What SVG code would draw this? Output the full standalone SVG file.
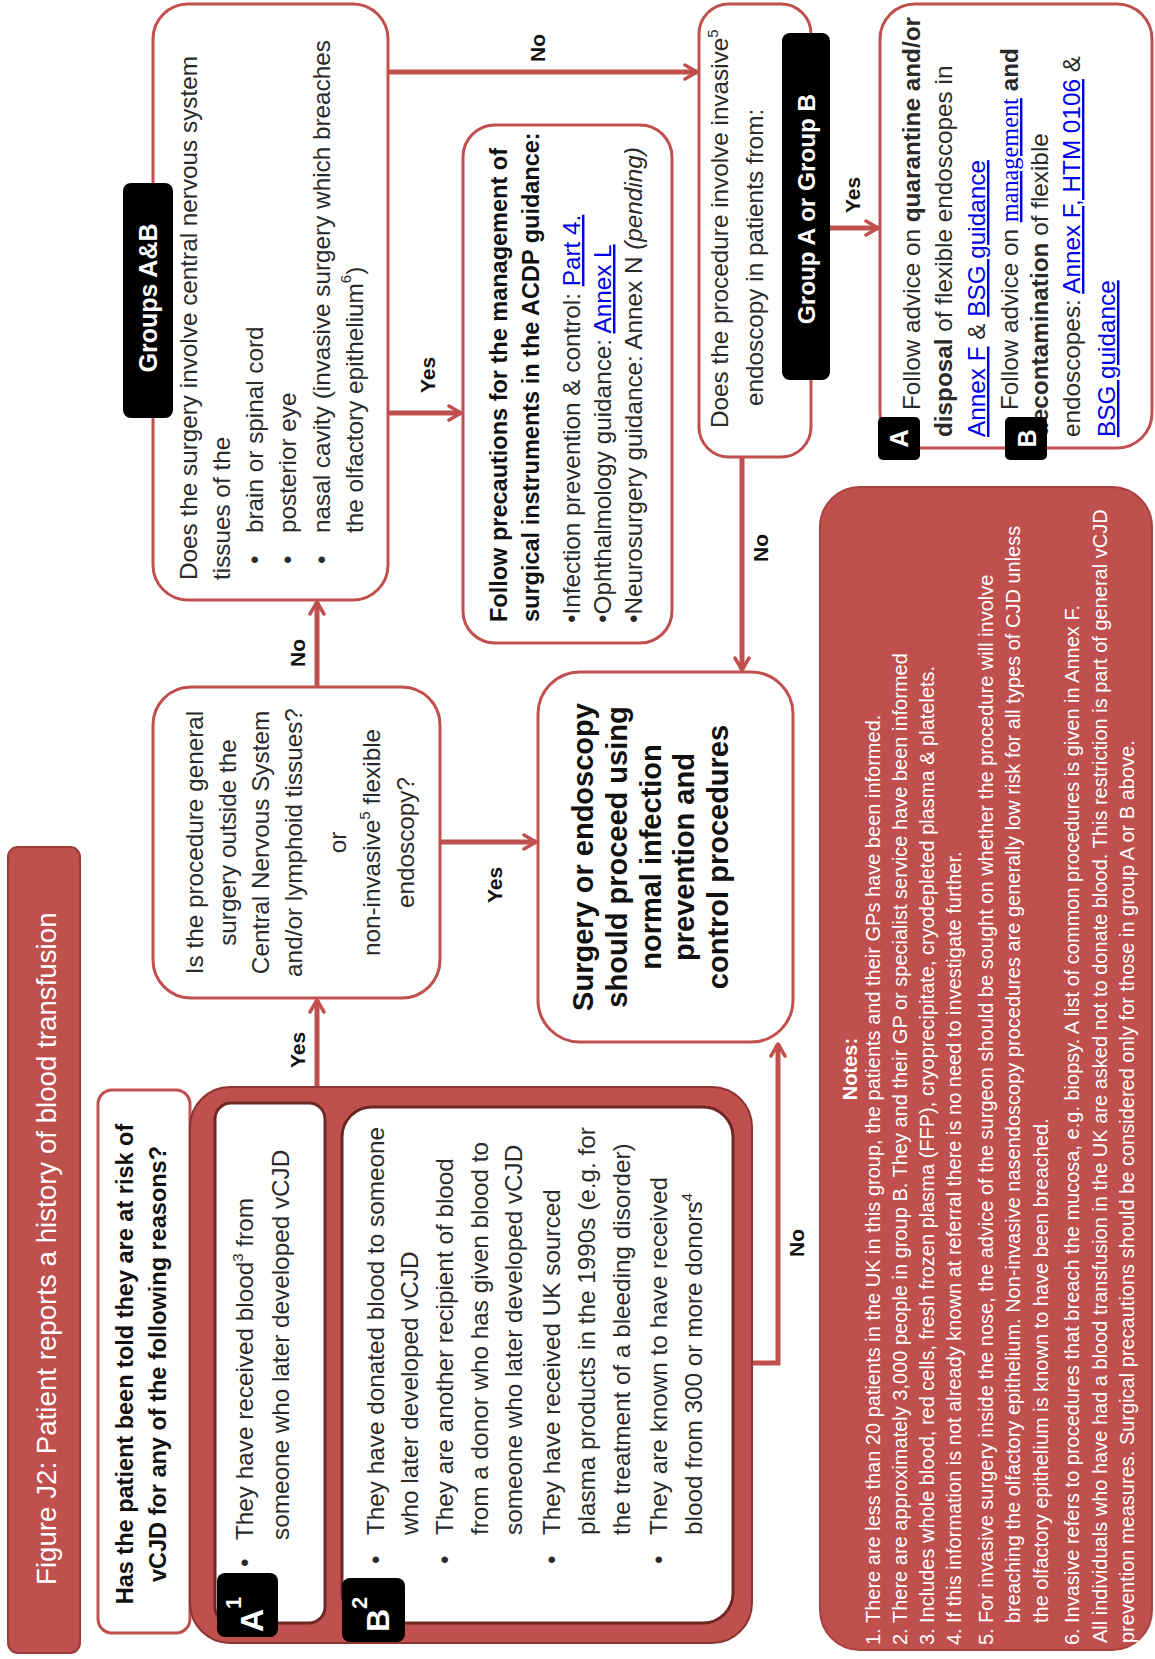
<svg xmlns="http://www.w3.org/2000/svg" width="1155" height="1659" viewBox="0 0 1155 1659">
<defs>
<marker id="arr" markerUnits="userSpaceOnUse" markerWidth="18" markerHeight="18" viewBox="0 0 18 18" refX="15" refY="9" orient="auto">
<path d="M3,2 L15,9 L3,16" fill="none" stroke="#c0504d" stroke-width="3.5" stroke-linecap="round" stroke-linejoin="round"/>
</marker>
<style>
text{font-family:"Liberation Sans",Arial,sans-serif;}
.t{font-size:24.3px;fill:#2a2a2a;}
.q{font-size:23.5px;font-weight:bold;fill:#111;}
.lb{font-size:21px;font-weight:bold;fill:#111;}
.wb{font-weight:bold;fill:#fff;}
.n{font-size:20px;fill:#fff;}
.lk{fill:#0000ee;text-decoration:underline;}
.rbox{fill:#fff;stroke:#c0504d;stroke-width:3;}
.conn{fill:none;stroke:#c0504d;stroke-width:5;marker-end:url(#arr);}
.tag{fill:#000;}
.big{font-size:29px;font-weight:bold;fill:#111;}
</style>
</defs>
<rect width="1155" height="1659" fill="#fff"/>
<g transform="translate(0,1659) rotate(-90)">

<g id="connectors">
<path class="conn" d="M572,317 L659,317"/>
<path class="conn" d="M972,317 L1057,317"/>
<path class="conn" d="M1246,388 L1246,461"/>
<path class="conn" d="M1587,388 L1587,697"/>
<path class="conn" d="M1431,830 L1431,878"/>
<path class="conn" d="M1202,742 L989,742"/>
<path class="conn" d="M817,440 L817,536"/>
<path class="conn" d="M296,752 L296,778 L615,778"/>
<text class="lb" x="609" y="305" text-anchor="middle">Yes</text>
<text class="lb" x="1006" y="305" text-anchor="middle">No</text>
<text class="lb" x="1284" y="435" text-anchor="middle">Yes</text>
<text class="lb" x="1611" y="545" text-anchor="middle">No</text>
<text class="lb" x="1464" y="860" text-anchor="middle">Yes</text>
<text class="lb" x="1111" y="768" text-anchor="middle">No</text>
<text class="lb" x="774" y="502" text-anchor="middle">Yes</text>
<text class="lb" x="416" y="804" text-anchor="middle">No</text>
</g>

<g id="title">
<rect x="6" y="8" width="806" height="72" rx="10" fill="#c0504d" stroke="#9b3c39" stroke-width="2"/>
<text x="74" y="56" font-size="27.7" fill="#fff">Figure J2: Patient reports a history of blood transfusion</text>
</g>

<g id="question">
<rect class="rbox" x="26" y="98" width="543" height="92" rx="14" stroke-width="2.5"/>
<text class="q" x="295" y="133" text-anchor="middle">Has the patient been told they are at risk of</text>
<text class="q" x="295" y="166" text-anchor="middle">vCJD for any of the following reasons?</text>
</g>

<g id="groups">
<rect x="16" y="190" width="556" height="562" rx="40" fill="#c0504d" stroke="#8a3532" stroke-width="2"/>
<rect x="36" y="215" width="520" height="110" rx="16" fill="#fff" stroke="#6e2725" stroke-width="3"/>
<rect x="36" y="342" width="516" height="391" rx="30" fill="#fff" stroke="#6e2725" stroke-width="3"/>
<rect class="tag" x="22" y="217" width="64" height="61" rx="8"/>
<text class="wb" x="27" y="263" font-size="32">A<tspan font-size="22" dy="-22">1</tspan></text>
<rect class="tag" x="17" y="342" width="64" height="63" rx="8"/>
<text class="wb" x="27" y="389" font-size="32">B<tspan font-size="22" dy="-22">2</tspan></text>
<text class="t" x="92" y="253">•</text>
<text class="t" x="119" y="253">They have received blood<tspan font-size="15" dy="-10">3</tspan><tspan dy="10"> from</tspan></text>
<text class="t" x="119" y="289">someone who later developed vCJD</text>
<text class="t" x="95" y="384">•</text>
<text class="t" x="124" y="384">They have donated blood to someone</text>
<text class="t" x="124" y="418">who later developed vCJD</text>
<text class="t" x="95" y="453">•</text>
<text class="t" x="124" y="453">They are another recipient of blood</text>
<text class="t" x="124" y="488">from a donor who has given blood to</text>
<text class="t" x="124" y="522">someone who later developed vCJD</text>
<text class="t" x="95" y="560">•</text>
<text class="t" x="124" y="560">They have received UK sourced</text>
<text class="t" x="124" y="595">plasma products in the 1990s (e.g. for</text>
<text class="t" x="124" y="630">the treatment of a bleeding disorder)</text>
<text class="t" x="95" y="667">•</text>
<text class="t" x="124" y="667">They are known to have received</text>
<text class="t" x="124" y="702">blood from 300 or more donors<tspan font-size="15" dy="-10">4</tspan></text>
</g>

<g id="q-general">
<rect class="rbox" x="661" y="153" width="311" height="287" rx="38"/>
<text class="t" x="816.5" y="203" text-anchor="middle">Is the procedure general</text>
<text class="t" x="816.5" y="236" text-anchor="middle">surgery outside the</text>
<text class="t" x="816.5" y="269" text-anchor="middle">Central Nervous System</text>
<text class="t" x="816.5" y="302" text-anchor="middle">and/or lymphoid tissues?</text>
<text class="t" x="816.5" y="346" text-anchor="middle">or</text>
<text class="t" x="816.5" y="380" text-anchor="middle">non-invasive<tspan font-size="15" dy="-10">5</tspan><tspan dy="10"> flexible</tspan></text>
<text class="t" x="816.5" y="414" text-anchor="middle">endoscopy?</text>
</g>

<g id="q-cns">
<rect class="rbox" x="1059" y="153" width="596" height="235" rx="35"/>
<rect class="tag" x="1241" y="123" width="235" height="50" rx="8"/>
<text class="wb" x="1361" y="157" font-size="25" text-anchor="middle">Groups A&amp;B</text>
<text class="t" x="1079" y="197">Does the surgery involve central nervous system</text>
<text class="t" x="1079" y="230">tissues of the</text>
<text class="t" x="1095" y="263">•</text>
<text class="t" x="1126" y="263">brain or spinal cord</text>
<text class="t" x="1095" y="296">•</text>
<text class="t" x="1126" y="296">posterior eye</text>
<text class="t" x="1095" y="330">•</text>
<text class="t" x="1126" y="330">nasal cavity (invasive surgery which breaches</text>
<text class="t" x="1126" y="363">the olfactory epithelium<tspan font-size="15" dy="-12">6</tspan><tspan dy="12">)</tspan></text>
</g>

<g id="precautions">
<rect class="rbox" x="1016" y="463" width="518" height="209" rx="32"/>
<text class="q" x="1037" y="507">Follow precautions for the management of</text>
<text class="q" x="1037" y="539">surgical instruments in the ACDP guidance:</text>
<text class="t" x="1036" y="580">•Infection prevention &amp; control: <tspan class="lk">Part 4.</tspan></text>
<text class="t" x="1036" y="611">•Ophthalmology guidance: <tspan class="lk">Annex L</tspan></text>
<text class="t" x="1036" y="642">•Neurosurgery guidance: Annex N <tspan font-style="italic">(pending)</tspan></text>
</g>

<g id="q-endoscopy">
<rect class="rbox" x="1202" y="699" width="453" height="112" rx="30"/>
<text class="t" x="1231" y="728">Does the procedure involve invasive<tspan font-size="15" dy="-10">5</tspan></text>
<text class="t" x="1253" y="763">endoscopy in patients from:</text>
<rect class="tag" x="1279" y="782" width="347" height="48" rx="8"/>
<text class="wb" x="1450" y="815" font-size="24.3" text-anchor="middle">Group A or Group B</text>
</g>

<g id="surgery">
<rect class="rbox" x="617" y="538" width="370" height="255" rx="42" stroke-width="3.5"/>
<text class="big" x="802" y="593" text-anchor="middle">Surgery or endoscopy</text>
<text class="big" x="802" y="627" text-anchor="middle">should proceed using</text>
<text class="big" x="802" y="661" text-anchor="middle">normal infection</text>
<text class="big" x="802" y="694" text-anchor="middle">prevention and</text>
<text class="big" x="802" y="728" text-anchor="middle">control procedures</text>
</g>

<g id="advice">
<rect class="rbox" x="1211" y="880" width="444" height="272" rx="35"/>
<text class="t" x="1249" y="920">Follow advice on <tspan font-weight="bold">quarantine and/or</tspan></text>
<text class="t" x="1222" y="952"><tspan font-weight="bold">disposal</tspan> of flexible endoscopes in</text>
<text class="t" x="1222" y="985"><tspan class="lk">Annex F</tspan> &amp; <tspan class="lk">BSG guidance</tspan></text>
<text class="t" x="1249" y="1018">Follow advice on <tspan class="lk" font-family="Liberation Serif">management</tspan> <tspan font-weight="bold">and</tspan></text>
<text class="t" x="1222" y="1048"><tspan font-weight="bold">decontamination</tspan> of flexible</text>
<text class="t" x="1222" y="1080">endoscopes: <tspan class="lk">Annex F, HTM 0106</tspan> &amp;</text>
<text class="t" x="1222" y="1115"><tspan class="lk">BSG guidance</tspan></text>
<rect class="tag" x="1199" y="878" width="43" height="42" rx="5"/>
<text class="wb" x="1220.5" y="908" font-size="25" text-anchor="middle">A</text>
<rect class="tag" x="1199" y="1005" width="43" height="42" rx="5"/>
<text class="wb" x="1220.5" y="1036" font-size="25" text-anchor="middle">B</text>
</g>

<g id="notes">
<rect x="9" y="820" width="1163" height="332" rx="40" fill="#c0504d" stroke="#a9433f" stroke-width="2"/>
<text class="n" x="590" y="857" font-weight="bold" text-anchor="middle">Notes:</text>
<text class="n" x="14" y="880">1.</text>
<text class="n" x="36" y="880">There are less than 20 patients in the UK in this group, the patients and their GPs have been informed.</text>
<text class="n" x="14" y="907">2.</text>
<text class="n" x="36" y="907">There are approximately 3,000 people in group B. They and their GP or specialist service have been informed</text>
<text class="n" x="14" y="934">3.</text>
<text class="n" x="36" y="934">Includes whole blood, red cells, fresh frozen plasma (FFP), cryoprecipitate, cryodepleted plasma &amp; platelets.</text>
<text class="n" x="14" y="961">4.</text>
<text class="n" x="36" y="961">If this information is not already known at referral there is no need to investigate further.</text>
<text class="n" x="14" y="993">5.</text>
<text class="n" x="36" y="993">For invasive surgery inside the nose, the advice of the surgeon should be sought on whether the procedure will involve</text>
<text class="n" x="36" y="1020">breaching the olfactory epithelium.  Non-invasive nasendoscopy procedures are generally low risk for all types of CJD unless</text>
<text class="n" x="36" y="1048">the olfactory epithelium is known to have been breached.</text>
<text class="n" x="14" y="1079">6.</text>
<text class="n" x="36" y="1079">Invasive refers to procedures that breach the mucosa, e.g. biopsy.  A list of common procedures is given in Annex F.</text>
<text class="n" x="16" y="1107">All individuals who have had a blood transfusion in the UK are asked not to donate blood.  This restriction is part of general vCJD</text>
<text class="n" x="16" y="1134">prevention measures.  Surgical precautions should be considered only for those in group A or B above.</text>
</g>

</g>
</svg>
